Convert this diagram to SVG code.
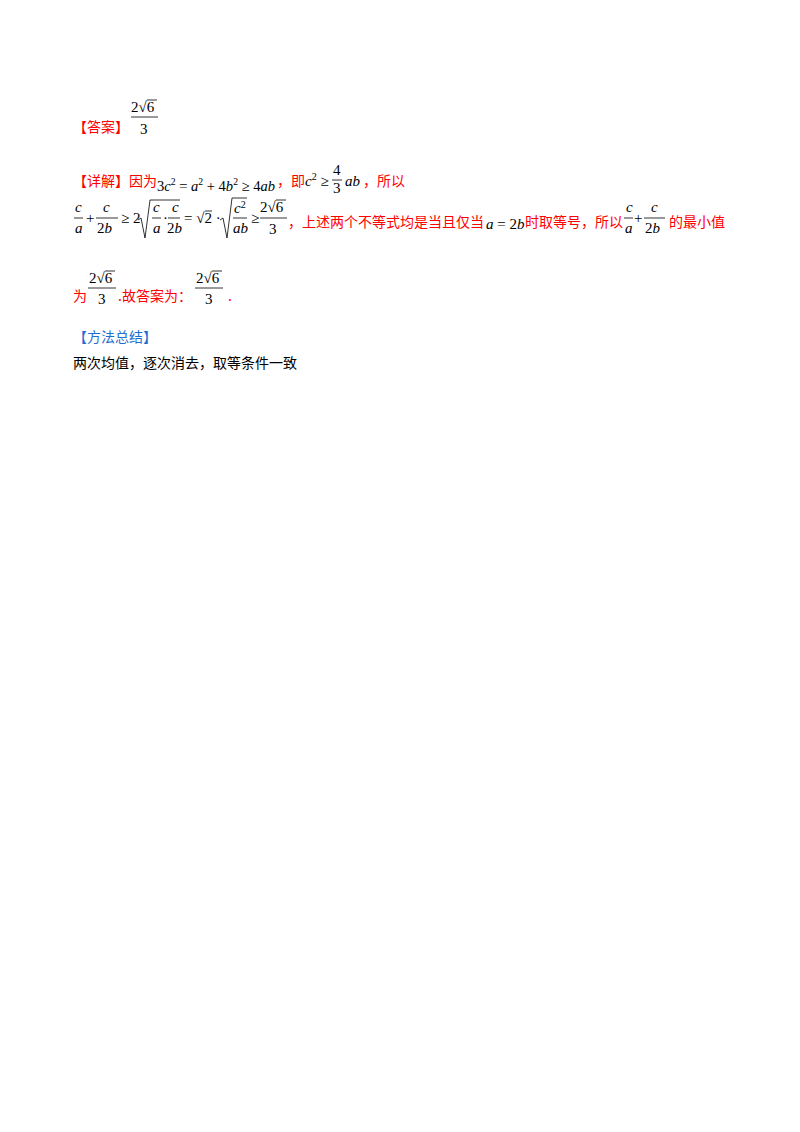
<svg xmlns="http://www.w3.org/2000/svg" width="800" height="1132" viewBox="0 0 800 1132">
<style>
.cn{font-family:"Noto Sans CJK SC",sans-serif;font-size:14px}
.r{fill:#ff0000}
.b{fill:#1f6fd0}
.k{fill:#000}
.m{font-family:"Liberation Serif",serif;font-size:15px;fill:#000}
.s{font-size:10px}
.i{font-style:italic}
.bar{stroke:#000;stroke-width:0.8;fill:none}
</style>
<rect width="800" height="1132" fill="#fff"/>
<g id="answer">
<text class="cn r" x="73" y="132">【答案】</text>
<text class="m" x="131" y="112">2√6</text><line class="bar" x1="147" y1="100" x2="157" y2="100"/>
<line class="bar" x1="131" y1="117" x2="158" y2="117"/>
<text class="m" x="140" y="134">3</text>
</g>
<g id="detail">
<text class="cn r" x="73" y="186">【详解】因为</text>
<text class="m" x="157" y="191" textLength="118" lengthAdjust="spacingAndGlyphs">3<tspan class="i">c</tspan><tspan class="s" dy="-6">2</tspan><tspan dy="6"> = </tspan><tspan class="i">a</tspan><tspan class="s" dy="-6">2</tspan><tspan dy="6"> + 4</tspan><tspan class="i">b</tspan><tspan class="s" dy="-6">2</tspan><tspan dy="6"> ≥ 4</tspan><tspan class="i">ab</tspan></text>
<text class="cn r" x="277" y="186">，即</text>
<text class="m" x="305" y="186"><tspan class="i">c</tspan><tspan class="s" dy="-6">2</tspan><tspan dy="6"> ≥</tspan></text>
<text class="m" x="333" y="175">4</text><line class="bar" x1="332" y1="180" x2="342" y2="180"/><text class="m" x="333" y="193">3</text>
<text class="m i" x="345" y="186">ab</text>
<text class="cn r" x="363" y="186">，所以</text>

<text class="m i" x="75" y="212">c</text><line class="bar" x1="74" y1="218" x2="83" y2="218"/><text class="m i" x="75" y="233">a</text>
<text class="m" x="86" y="223">+</text>
<text class="m i" x="103" y="212">c</text><line class="bar" x1="96" y1="218" x2="118" y2="218"/><text class="m" x="97" y="233">2<tspan class="i">b</tspan></text>
<text class="m" x="121" y="223">≥ 2</text>
<path class="bar" d="M138,220 L141,218 L145,238 L150,200 L180,200"/>
<text class="m i" x="153" y="212">c</text><line class="bar" x1="152" y1="218" x2="161" y2="218"/><text class="m i" x="153" y="233">a</text>
<text class="m" x="163" y="223">·</text>
<text class="m i" x="172" y="212">c</text><line class="bar" x1="168" y1="218" x2="180" y2="218"/><text class="m" x="167" y="233">2<tspan class="i">b</tspan></text>
<text class="m" x="184" y="223">= √2 ·</text><line class="bar" x1="205" y1="211" x2="212" y2="211"/>
<path class="bar" d="M220,220 L223,218 L227,238 L232,198 L247,198"/>
<text class="m i" x="234" y="213">c<tspan class="s" dy="-5" style="font-style:normal">2</tspan></text><line class="bar" x1="233" y1="218" x2="247" y2="218"/><text class="m i" x="233" y="233">ab</text>
<text class="m" x="251" y="223">≥</text>
<text class="m" x="260" y="212">2√6</text><line class="bar" x1="276" y1="200" x2="286" y2="200"/><line class="bar" x1="260" y1="218" x2="287" y2="218"/><text class="m" x="269" y="234">3</text>
<text class="cn r" x="288" y="227">，上述两个不等式均是当且仅当</text>
<text class="m" x="486" y="229"><tspan class="i">a</tspan> = 2<tspan class="i">b</tspan></text>
<text class="cn r" x="525" y="227">时取等号，所以</text>
<text class="m i" x="626" y="212">c</text><line class="bar" x1="624" y1="218" x2="633" y2="218"/><text class="m i" x="625" y="233">a</text>
<text class="m" x="634" y="223">+</text>
<text class="m i" x="651" y="212">c</text><line class="bar" x1="644" y1="218" x2="665" y2="218"/><text class="m" x="645" y="233">2<tspan class="i">b</tspan></text>
<text class="cn r" x="669" y="227">的最小值</text>

<text class="cn r" x="73" y="301">为</text>
<text class="m" x="89" y="283">2√6</text><line class="bar" x1="105" y1="271" x2="115" y2="271"/><line class="bar" x1="88" y1="288" x2="116" y2="288"/><text class="m" x="98" y="304">3</text>
<text class="cn r" x="118" y="301">.故答案为：</text>
<text class="m" x="196" y="283">2√6</text><line class="bar" x1="212" y1="271" x2="222" y2="271"/><line class="bar" x1="195" y1="288" x2="223" y2="288"/><text class="m" x="205" y="304">3</text>
<text class="cn r" x="228" y="301">.</text>
</g>
<g id="summary">
<text class="cn b" x="73" y="342">【方法总结】</text>
<text class="cn k" x="73" y="368">两次均值，逐次消去，取等条件一致</text>
</g>
</svg>
